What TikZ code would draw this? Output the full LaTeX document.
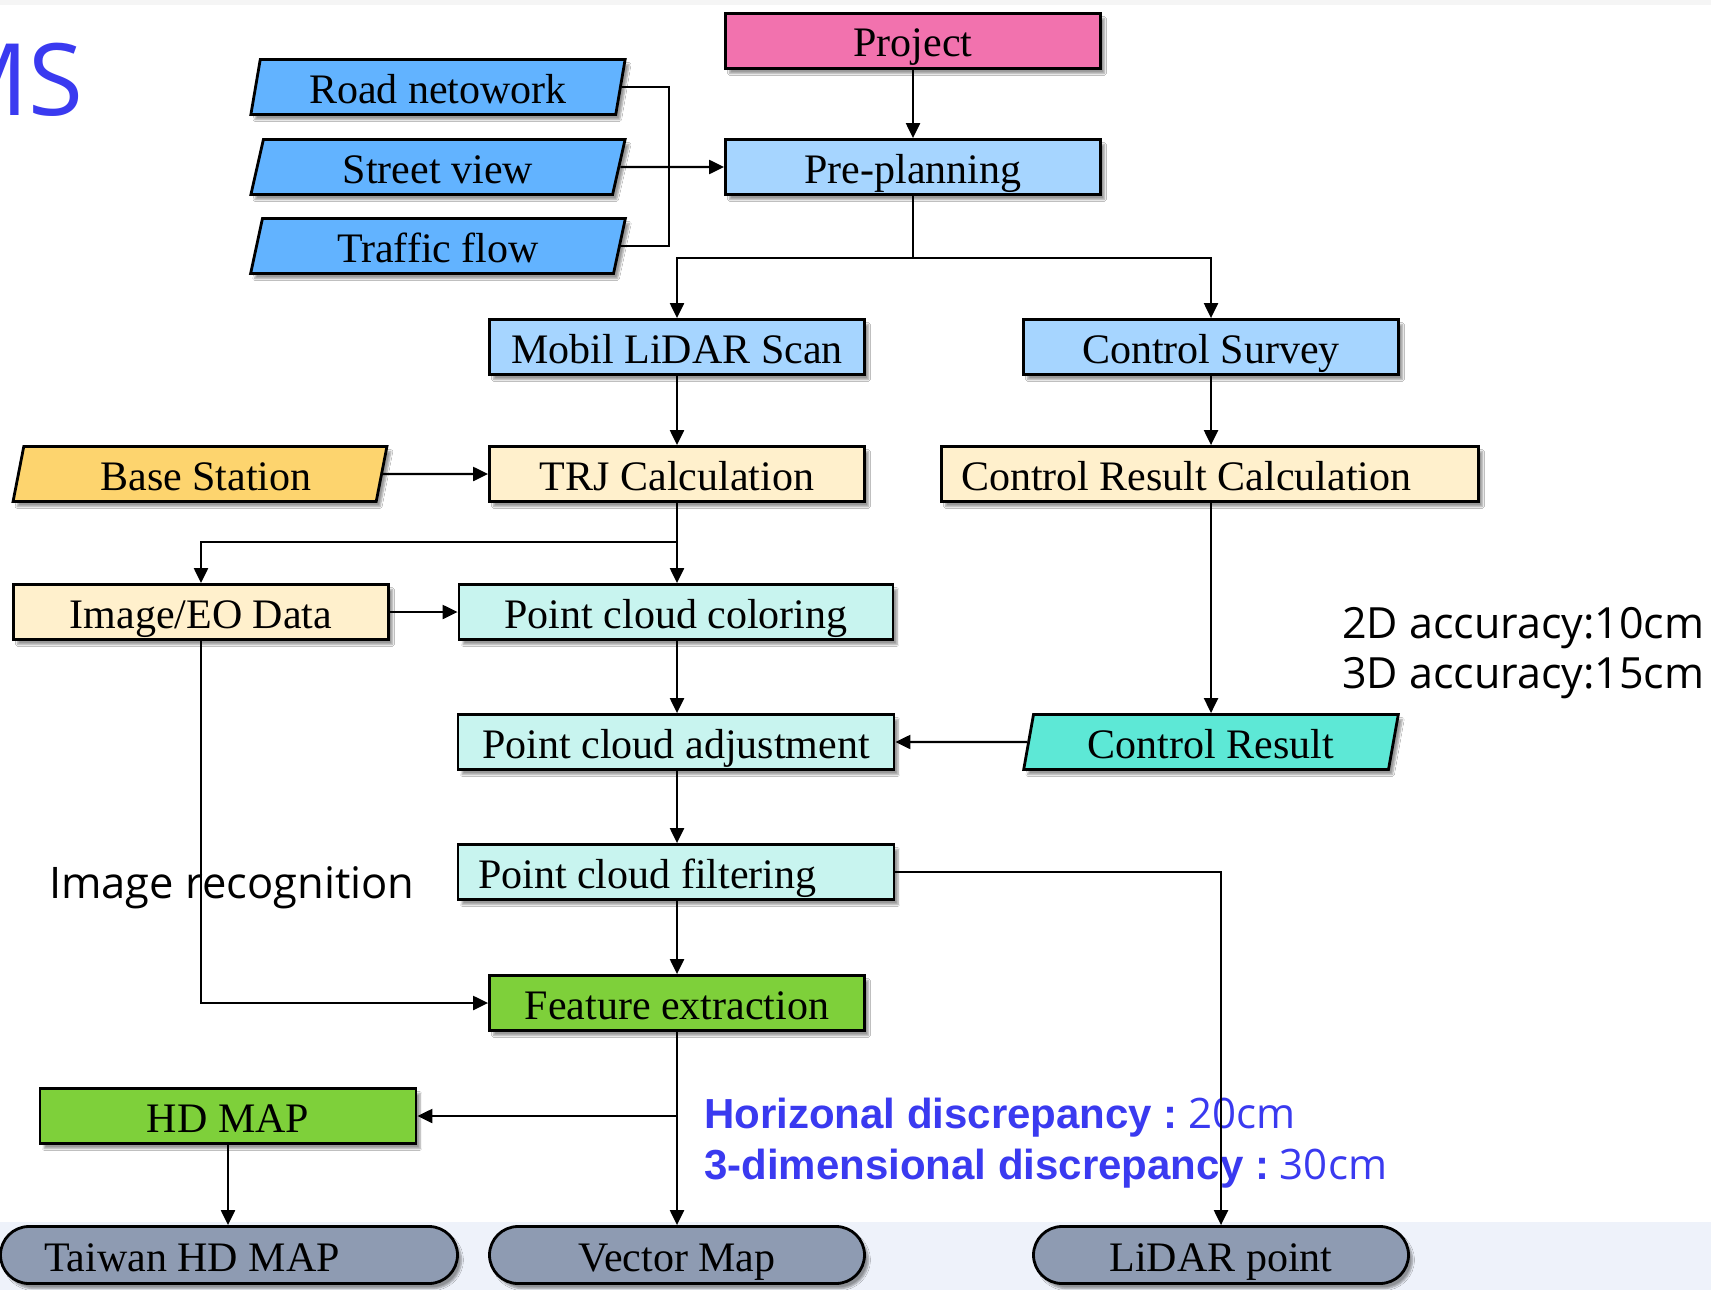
\documentclass[tikz,border=0pt]{standalone}
\usepackage{fontspec}
\setmainfont{Liberation Serif}
\newfontfamily\sansA{Open Sans}
\newfontfamily\arialB{Liberation Sans}
\usetikzlibrary{shapes.geometric,shapes.misc,arrows.meta,shadows.blur}
\definecolor{cproj}{HTML}{F272AE}
\definecolor{cpre}{HTML}{A6D5FF}
\definecolor{cin}{HTML}{62B3FF}
\definecolor{cbase}{HTML}{FDD46E}
\definecolor{ccream}{HTML}{FFF0CC}
\definecolor{cpc}{HTML}{C8F4EF}
\definecolor{ccr}{HTML}{5DE8D6}
\definecolor{cgreen}{HTML}{7ED03A}
\definecolor{cout}{HTML}{8E9BB2}
\definecolor{cband}{HTML}{EEF2FA}
\definecolor{cblue}{HTML}{3A3AF0}
\begin{document}
\begin{tikzpicture}[x=1pt,y=-1pt,
  box/.style={draw=black, line width=2.8pt, minimum width=375pt, minimum height=55pt, inner sep=0pt,
    text height=32pt, text depth=0pt,
    font=\fontsize{42pt}{46pt}\selectfont,
    blur shadow={shadow xshift=4pt, shadow yshift=-5pt, shadow opacity=40, shadow blur steps=6}},
  para/.style={box, trapezium, trapezium left angle=78, trapezium right angle=102, trapezium stretches=true},
  stadium/.style={box, rounded rectangle, minimum height=57pt},
  conn/.style={line width=2.2pt},
  arr/.style={conn, -{Triangle[length=15pt,width=14pt]}},
  note/.style={inner sep=0pt, font=\sansA\fontsize{43.5pt}{50pt}\selectfont},
]
\useasboundingbox (0,0) rectangle (1711,1290);
\clip (0,0) rectangle (1711,1290);
\fill[white] (0,0) rectangle (1711,1290);
\fill[black!4] (0,0) rectangle (1711,5);
\fill[cband] (0,1222) rectangle (1711,1290);

% title fragment
\node[anchor=east, inner sep=0pt, text=cblue, font=\sansA\fontsize{100pt}{100pt}\selectfont] (title) at (84,80) {MS};

% nodes
\node[box, fill=cproj] (proj) at (913,41) {Project};
\node[box, fill=cpre] (pre) at (913,167) {Pre-planning};
\node[para, fill=cin] (road) at (438,87) {Road netowork};
\node[para, fill=cin] (street) at (438,167) {Street view};
\node[para, fill=cin] (traffic) at (438,246) {Traffic flow};
\node[box, fill=cpre] (mob) at (677,347) {Mobil LiDAR Scan};
\node[box, fill=cpre] (cs) at (1211,347) {Control Survey};
\node[para, fill=cbase] (base) at (200,474) {\hspace*{12pt}Base Station};
\node[box, fill=ccream] (trj) at (677,474) {TRJ Calculation};
\node[box, fill=ccream, minimum width=537pt, text width=498pt, align=flush left] (crc) at (1210,474) {Control Result Calculation};
\node[box, fill=ccream] (img) at (201,612) {Image/EO Data};
\node[box, fill=cpc, minimum width=434pt] (pcc) at (676,612) {Point cloud coloring};
\node[box, fill=cpc, minimum width=436pt] (pca) at (676,742) {Point cloud adjustment};
\node[para, fill=ccr] (crr) at (1211,742) {Control Result};
\node[box, fill=cpc, minimum width=436pt, text width=396pt, align=flush left] (pcf) at (676,872) {Point cloud filtering};
\node[box, fill=cgreen] (fe) at (677,1003) {Feature extraction};
\node[box, fill=cgreen, minimum width=376pt] (hd) at (228,1116) {HD MAP};
\node[stadium, fill=cout, minimum width=457pt, text width=370pt, align=flush left] (tw) at (229,1255) {Taiwan HD MAP};
\node[stadium, fill=cout] (vm) at (677,1255) {Vector Map};
\node[stadium, fill=cout] (lp) at (1221,1255) {LiDAR point};

% texts
\node[note, anchor=west] (recog) at (49,888) {Image recognition};
\node[note, anchor=west, align=left, font=\sansA\fontsize{43pt}{50pt}\selectfont] (acc) at (1342,653) {2D accuracy:10cm\\3D accuracy:15cm};
\node[anchor=west, inner sep=0pt, text=cblue, align=left, font=\fontsize{42pt}{51pt}\selectfont] (disc) at (704,1143)
  {{\arialB\bfseries Horizonal discrepancy :}{\sansA\ 20cm}\\{\arialB\bfseries 3-dimensional discrepancy :}{\sansA\ 30cm}};

% connectors
\coordinate (bus) at (669,167);
\draw[conn] (road.east) -| (bus) |- (traffic.east);
\draw[arr] (street.east) -- (pre.west);
\draw[arr] (proj.south) -- (pre.north);
\coordinate (split1) at (913,258);
\draw[conn] (pre.south) -- (split1);
\draw[arr] (split1) -| (mob.north);
\draw[arr] (split1) -| (cs.north);
\draw[arr] (mob.south) -- (trj.north);
\draw[arr] (cs.south) -- (cs.south |- crc.north);
\draw[arr] (base.east) -- (trj.west);
\coordinate (split2) at (677,542);
\draw[conn] (trj.south) -- (split2);
\draw[arr] (split2) -| (img.north);
\draw[arr] (split2) -- (split2 |- pcc.north);
\draw[arr] (img.east) -- (pcc.west);
\draw[arr] (pcc.south -| split2) -- (split2 |- pca.north);
\draw[arr] (crc.south -| crr.north) -- (crr.north);
\draw[arr] (crr.west) -- (pca.east);
\draw[arr] (pca.south -| split2) -- (split2 |- pcf.north);
\draw[arr] (pcf.east) -| (lp.north);
\draw[arr] (pcf.south -| split2) -- (fe.north);
\draw[arr] (img.south) |- (fe.west);
\draw[arr] (fe.south) -- (vm.north);
\coordinate (split3) at (677,1116);
\draw[arr] (split3) -- (hd.east);
\draw[arr] (hd.south) -- (hd.south |- tw.north);
\end{tikzpicture}
\end{document}
